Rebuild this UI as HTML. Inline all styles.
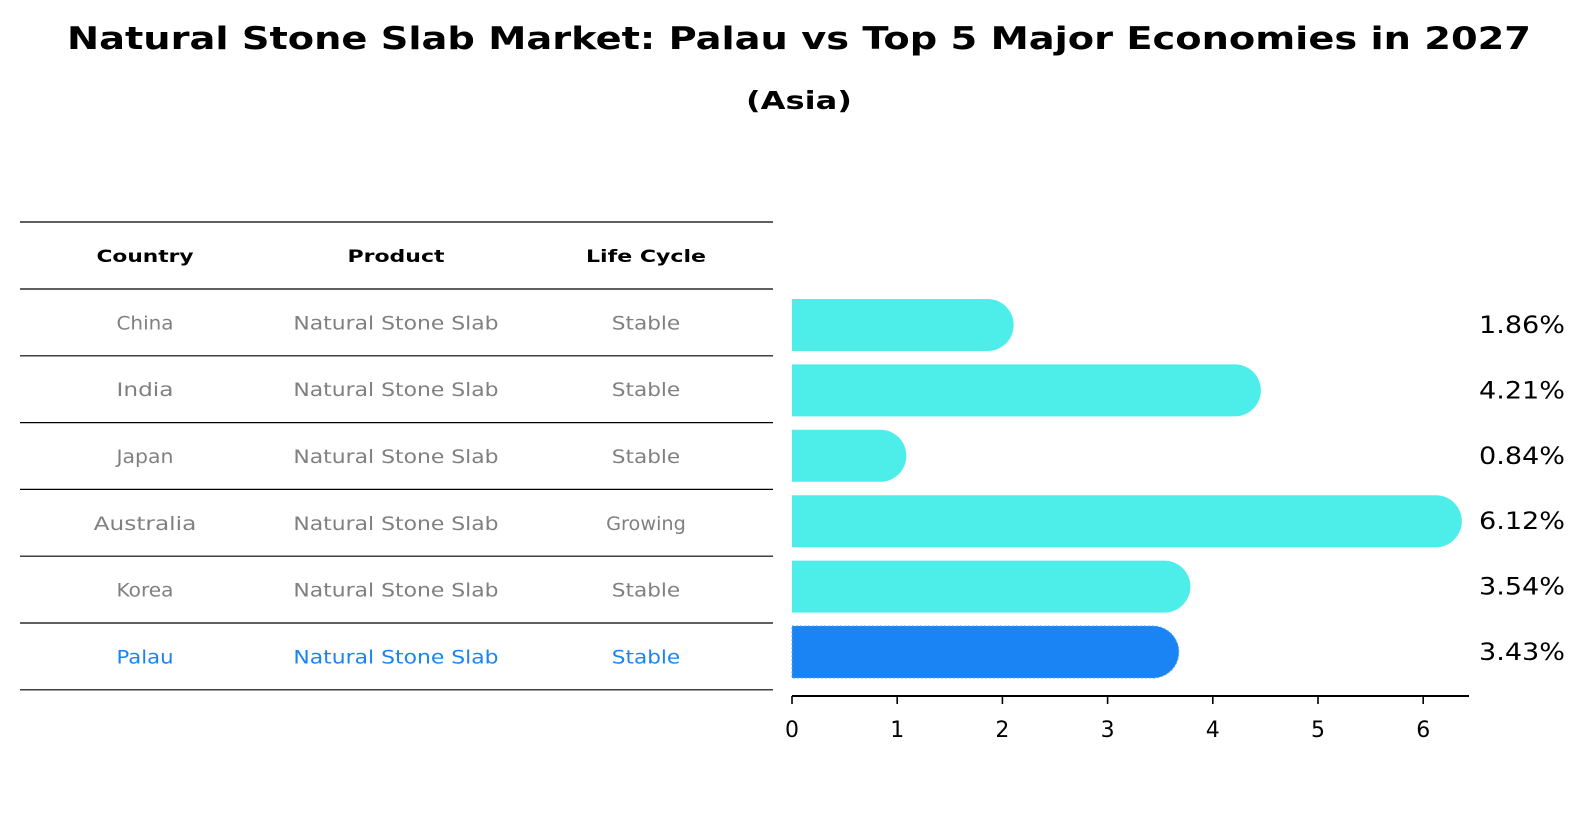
<!DOCTYPE html>
<html><head><meta charset="utf-8"><style>
body{margin:0;background:#fff}
svg{display:block;font-family:"DejaVu Sans","Liberation Sans",sans-serif}
</style></head><body>
<svg id="chart" width="1586" height="823" viewBox="0 0 1586 823">
<rect width="1586" height="823" fill="#fff"/>
<text x="799" y="49" text-anchor="middle" font-size="31" font-weight="bold" textLength="1464" lengthAdjust="spacingAndGlyphs">Natural Stone Slab Market: Palau vs Top 5 Major Economies in 2027</text>
<text x="799" y="109" text-anchor="middle" font-size="25" font-weight="bold" textLength="106" lengthAdjust="spacingAndGlyphs">(Asia)</text>
<g id="table"></g>
<g id="bars"></g>
</svg>
<script>
const countries=["China","India","Japan","Australia","Korea","Palau"];
const products=["Natural Stone Slab","Natural Stone Slab","Natural Stone Slab","Natural Stone Slab","Natural Stone Slab","Natural Stone Slab"];
const lifeCycles=["Stable","Stable","Stable","Growing","Stable","Stable"];
const values=[1.86,4.21,0.84,6.12,3.54,3.43];
const valueLabels=["1.86%","4.21%","0.84%","6.12%","3.54%","3.43%"];
const xTicks=[0,1,2,3,4,5,6];

const NS="http://www.w3.org/2000/svg";
function mk(tag,attrs,parent){const e=document.createElementNS(NS,tag);for(const k in attrs)e.setAttribute(k,attrs[k]);parent.appendChild(e);return e;}
const x0=792,xs=105.2;
function xScale(v){return x0+v*xs;}
const rowY0=325,rowStep=65.4;
function yScale(i){return rowY0+i*rowStep;}

// table
const tbl=document.getElementById('table');
const lineYs=[222,289];
for(let i=1;i<=countries.length;i++)lineYs.push(289+i*66.8);
lineYs.forEach((y,i)=>{
  const l=mk('line',{x1:20,x2:773,y1:y,y2:y,stroke:'#000','stroke-width':1.2},tbl);
  
  
});
const colX=[145,396,646];
const hdrW=[97,97,120];
["Country","Product","Life Cycle"].forEach((h,j)=>{
  const t=mk('text',{x:colX[j],y:262,'text-anchor':'middle','font-size':17,'font-weight':'bold',textLength:hdrW[j],lengthAdjust:'spacingAndGlyphs'},tbl);
  t.textContent=h;
  
  
});
function estW(s){return s.length*11.4;}
countries.forEach((c,i)=>{
  const y=289+i*66.8+33.4+7;
  const col=c==="Palau"?"#1a84f5":"#808080";
  [c,products[i],lifeCycles[i]].forEach((s,j)=>{
    const t=mk('text',{x:colX[j],y:y,'text-anchor':'middle','font-size':19,fill:col,textLength:estW(s),lengthAdjust:'spacingAndGlyphs'},tbl);
    t.textContent=s;
    
    
  });
});

// bars
const g=document.getElementById('bars');
const h=52,r=26;
values.forEach((v,i)=>{
  const cy=yScale(i),xe=xScale(v);
  const isP=countries[i]==="Palau";
  const col=isP?"#1a84f5":"#4deeea";
  const p=mk('path',{d:`M${x0},${cy-h/2} H${xe} A${r},${r} 0 0 1 ${xe},${cy+h/2} H${x0} Z`,fill:col},g);
  if(isP){p.setAttribute('stroke','#5aa8f0');p.setAttribute('stroke-dasharray','2,2');p.setAttribute('stroke-width','1');}
  
  
  const t=mk('text',{x:1479,y:cy+8,'font-size':24,textLength:86,lengthAdjust:'spacingAndGlyphs'},g);
  t.textContent=valueLabels[i];
  
  
});
const axY=696;
const ax=mk('line',{x1:x0,x2:1469,y1:axY,y2:axY,stroke:'#000','stroke-width':2},g);


xTicks.forEach(v=>{
  const x=xScale(v);
  const tk=mk('line',{x1:x,x2:x,y1:axY,y2:axY+8,stroke:'#000','stroke-width':1.6},g);
  
  
  const t=mk('text',{x:x,y:737,'text-anchor':'middle','font-size':22},g);
  t.textContent=v;
  
  
});
</script>
</body></html>
